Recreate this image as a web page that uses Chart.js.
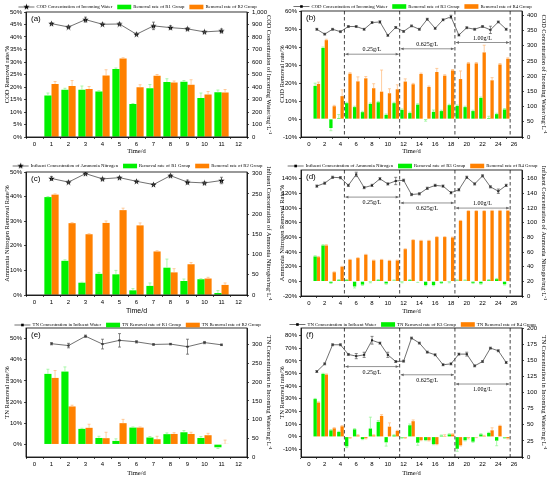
<!DOCTYPE html>
<html>
<head>
<meta charset="utf-8">
<script src="https://cdn.jsdelivr.net/npm/chart.js@4.4.0/dist/chart.umd.min.js"></script>
<style>
  body { margin: 0; background: #fff; width: 550px; height: 477px; overflow: hidden; }
  .p { position: absolute; width: 275px; }
</style>
</head>
<body>
<div class="p" style="left:0;top:0;height:155px"><canvas id="ca"></canvas></div>
<div class="p" style="left:275px;top:0;height:155px"><canvas id="cb"></canvas></div>
<div class="p" style="left:0;top:155px;height:160px"><canvas id="cc"></canvas></div>
<div class="p" style="left:275px;top:155px;height:160px"><canvas id="cd"></canvas></div>
<div class="p" style="left:0;top:315px;height:162px"><canvas id="ce"></canvas></div>
<div class="p" style="left:275px;top:315px;height:162px"><canvas id="cf"></canvas></div>
<script>
// ---- data ----
const days11 = [1, 2, 3, 4, 5, 6, 7, 8, 9, 10, 11];
const days25 = [1, 2, 3, 4, 5, 6, 7, 8, 9, 10, 11, 12, 13, 14, 15, 16, 17, 18, 19, 20, 21, 22, 23, 24, 25];

// (a) COD, R1 / R2
const codInA = [907, 880, 939, 902, 904, 822, 889, 875, 865, 841, 849];
const codInAErr = [8, 8, 20, 8, 8, 8, 30, 15, 10, 5, 15];
const codR1A = [16.6, 18.9, 18.9, 18.2, 27.2, 13.2, 19.5, 22.0, 22.1, 15.6, 17.9];
const codR1AErr = [1.0, 0.6, 1.5, 0.3, 0.4, 0.2, 1.5, 1.3, 0.5, 2.0, 0.9];
const codR2A = [21.2, 20.4, 19.2, 24.6, 31.4, 19.9, 24.5, 21.8, 20.9, 17.0, 17.8];
const codR2AErr = [1.0, 2.2, 1.0, 2.3, 0.3, 1.0, 0.5, 0.6, 2.0, 1.2, 1.2];

// (b) COD, R3 / R4
const codInB = [354, 338, 354, 346, 363, 363, 354, 376, 378, 334, 360, 347, 365, 354, 387, 357, 385, 395, 335, 359, 354, 363, 352, 378, 354];
const codInBErr = [3, 3, 3, 3, 3, 3, 3, 3, 4, 3, 3, 3, 3, 3, 3, 3, 3, 5, 3, 3, 3, 3, 12, 3, 3];
const codR3B = [18.4, 39.5, -5.0, 0.5, 8.8, 6.6, 3.8, 8.4, 9.3, 2.3, 8.8, 5.1, 3.3, 8.0, -0.4, 4.0, 4.4, 7.7, 7.3, 6.6, 4.4, 11.7, 0.5, 2.7, 5.3];
const codR3BErr = [1.5, 0.5, 1.5, 2.0, 0.5, 0.5, 0.5, 0.5, 0.5, 0.5, 0.5, 0.5, 0.5, 0.5, 0.8, 1.0, 0.5, 0.5, 0.5, 0.5, 0.5, 0.5, 1.0, 0.5, 0.5];
const codR4B = [19.5, 43.8, 7.1, 12.7, 25.2, 20.9, 22.6, 17.1, 15.2, 14.3, 16.5, 20.8, 19.3, 25.0, 17.8, 26.1, 24.1, 27.0, 22.2, 30.9, 30.9, 37.0, 21.5, 30.3, 33.5];
const codR4BErr = [1.0, 0.5, 0.5, 3.5, 0.5, 2.5, 1.0, 2.5, 12.0, 2.5, 2.5, 1.5, 0.5, 0.5, 0.5, 2.0, 0.5, 0.5, 4.5, 0.5, 0.5, 4.0, 1.5, 0.5, 0.5];

// (c) ammonia nitrogen, R1 / R2
const nhInC = [288, 279, 300, 287, 290, 281, 273, 295, 279, 277, 283];
const nhInCErr = [5, 2, 2, 2, 2, 2, 2, 3, 5, 2, 8];
const nhR1C = [39.8, 13.9, 5.0, 8.6, 8.4, 1.9, 3.7, 11.1, 5.7, 6.4, 0.8];
const nhR1CErr = [0.2, 0.4, 0.2, 0.6, 1.6, 0.7, 1.2, 3.5, 0.8, 0.2, 1.0];
const nhR2C = [40.8, 29.2, 24.7, 29.3, 34.5, 28.3, 17.7, 9.2, 12.5, 6.7, 4.1];
const nhR2CErr = [0.3, 0.2, 0.2, 0.8, 0.8, 1.0, 0.3, 1.5, 0.7, 0.5, 0.8];

// (d) ammonia nitrogen, R3 / R4
const nhInD = [150, 154, 162, 161.5, 151, 166, 148, 151, 160, 153, 157, 158, 138.5, 139.5, 147, 151, 150, 141, 145, 162, 153, 164, 149, 143, 151];
const nhInDErr = [1.5, 1.5, 1.5, 1.5, 1.5, 3, 1.5, 1.5, 1.5, 1.5, 5, 1.5, 1.5, 1.5, 1.5, 1.5, 1.5, 1.5, 1.5, 1.5, 1.5, 1.5, 1.5, 3, 1.5];
const nhR3D = [34, 49, -2, 1.5, 1.5, -7, -4.5, -1, 1.5, -3, 1, -1, 1.5, -0.5, -5, -5, -2, -1, 1, 1, -2, -3, 1.5, 3, -4];
const nhR3DErr = [1, 1, 1, 1, 1, 2, 1, 1, 1, 1, 1, 1, 1, 1, 1, 1, 1, 1, 1, 1, 1, 1, 1, 1, 1];
const nhR4D = [33, 49, 12.5, 20, 29.5, 31.8, 36.4, 28.6, 29.5, 28.2, 28.6, 44, 56.4, 55.5, 55.5, 60.5, 60.5, 60, 82.7, 96, 96, 96, 96.4, 96.4, 96.4];
const nhR4DErr = [1, 1, 0.5, 0.5, 0.5, 0.5, 0.5, 0.5, 0.5, 0.5, 0.5, 0.5, 0.5, 0.5, 0.5, 0.5, 0.5, 0.5, 0.5, 0.5, 0.5, 0.5, 0.5, 0.5, 0.5];

// (e) TN, R1 / R2
const tnInE = [303, 298, 323, 302, 312, 308, 301, 302, 295, 306, 300];
const tnInEErr = [3, 6, 3, 13, 18, 3, 2, 2, 20, 3, 2];
const tnR1E = [33.3, 34.4, 7.3, 3.0, 1.6, 7.9, 3.2, 4.8, 5.7, 3.0, -1.4];
const tnR1EErr = [2.2, 2.2, 0.3, 0.8, 1.0, 0.3, 0.5, 0.6, 0.8, 0.7, 0.6];
const tnR2E = [31.4, 17.9, 7.8, 2.9, 10.0, 7.9, 2.4, 4.9, 4.9, 4.3, 0.2];
const tnR2EErr = [3.5, 0.6, 1.7, 2.8, 1.8, 0.3, 1.4, 0.6, 0.8, 0.9, 1.8];

// (f) TN, R3 / R4
const tnInF = [132.5, 144.4, 174, 174, 159, 156.4, 158.4, 181, 176.6, 158.4, 148, 148.6, 184.4, 176.6, 162.6, 158.4, 143, 144.4, 159.5, 159.5, 141.3, 148, 168.8, 164.7, 146.5];
const tnInFErr = [1.5, 1.5, 1.5, 1.5, 1.5, 4, 4, 6, 1.5, 4, 1.5, 1.5, 1.5, 1.5, 1.5, 1.5, 1.5, 1.5, 1.5, 3, 1.5, 1.5, 1.5, 1.5, 1.5];
const tnR3F = [29.8, 49.7, 5.1, 3.8, -7.6, 5.9, -1.8, 6.5, 11.8, -4.4, 1.1, -0.7, 9.1, -4.7, -2.6, -5.8, 0.9, 1.9, -9.5, -2.8, -3.9, 1.9, 3.0, -3.1, -0.7];
const tnR3FErr = [0.5, 0.5, 0.5, 0.5, 1, 0.5, 0.5, 9, 1, 3, 0.5, 0.5, 1, 2, 0.5, 0.5, 0.5, 0.5, 2, 0.5, 0.5, 0.5, 0.5, 4, 0.5];
const tnR4F = [27.1, 49.2, 6.7, 8.3, -0.7, 1.1, -1.2, 1.1, 16.5, 8.0, 4.6, -0.7, 12.3, -2.6, -2.8, -5.8, 0.6, 1.9, -6.8, -0.7, -0.2, 0.6, 5.1, 8.6, -1.2];
const tnR4FErr = [0.5, 0.5, 0.5, 0.5, 0.5, 0.5, 0.5, 0.5, 1, 3, 0.5, 0.5, 1, 0.5, 0.5, 0.5, 1, 0.5, 0.5, 1, 0.5, 0.5, 2, 0.5, 0.5];

// dosing phases
const phaseLines = [4.5, 11.5, 18.5, 25.5];
const phaseLabels = ['0.25g/L', '0.625g/L', '1.00g/L'];

// ---- drawing ----
const GREEN = '#00f000';
const ORANGE = '#ff8000';
const SERIF = '"Liberation Serif", "Times New Roman", serif';
const SANS = '"Liberation Sans", Arial, sans-serif';

Chart.defaults.font.family = SANS;
Chart.defaults.color = '#000';

function pts(xs, ys) {
  return xs.map((x, i) => ({ x: x, y: ys[i] }));
}

// filled five-point star used as point style
const starImg = (function () {
  const c = document.createElement('canvas');
  c.width = 7; c.height = 7;
  const g = c.getContext('2d');
  g.beginPath();
  for (let i = 0; i < 10; i++) {
    const r = i % 2 ? 1.3 : 3.3;
    const a = -Math.PI / 2 + i * Math.PI / 5;
    g.lineTo(3.5 + r * Math.cos(a), 3.8 + r * Math.sin(a));
  }
  g.closePath();
  g.fillStyle = '#000';
  g.fill();
  return c;
})();

function deco(p) {
  return {
    id: 'deco',
    afterDatasetDraw(chart, args) {
      const spec = p.errors[args.index];
      if (!spec) return;
      const ctx = chart.ctx;
      const meta = args.meta;
      const ys = chart.scales[meta.yAxisID];
      const data = chart.data.datasets[args.index].data;
      ctx.save();
      ctx.strokeStyle = spec.color;
      ctx.lineWidth = 0.7;
      meta.data.forEach(function (el, i) {
        const v = data[i].y, e = spec.err[i];
        if (!e) return;
        const x = el.x;
        let y0, y1;
        if (spec.both) {
          y0 = ys.getPixelForValue(v - e);
          y1 = ys.getPixelForValue(v + e);
        } else {
          y0 = el.y;
          y1 = ys.getPixelForValue(v >= 0 ? v + e : v - e);
        }
        ctx.beginPath();
        ctx.moveTo(x, y0); ctx.lineTo(x, y1);
        ctx.moveTo(x - 1.5, y1); ctx.lineTo(x + 1.5, y1);
        if (spec.both) { ctx.moveTo(x - 1.5, y0); ctx.lineTo(x + 1.5, y0); }
        ctx.stroke();
      });
      ctx.restore();
    },
    afterDraw(chart) {
      const ctx = chart.ctx, a = chart.chartArea;
      const xs = chart.scales.x, ys = chart.scales.y;
      ctx.save();

      // phase separators and double arrows
      if (p.phases) {
        ctx.strokeStyle = '#333';
        ctx.lineWidth = 0.9;
        ctx.setLineDash([3.5, 2.5]);
        phaseLines.forEach(function (v) {
          const x = xs.getPixelForValue(v);
          ctx.beginPath(); ctx.moveTo(x, a.top); ctx.lineTo(x, a.bottom); ctx.stroke();
        });
        ctx.setLineDash([]);
        ctx.font = '6px ' + SERIF;
        ctx.textAlign = 'center';
        ctx.textBaseline = 'middle';
        p.phases.forEach(function (ph, i) {
          const x0 = xs.getPixelForValue(phaseLines[i]) + 1;
          const x1 = xs.getPixelForValue(phaseLines[i + 1]) - 1;
          const y = ys.getPixelForValue(ph.y);
          ctx.strokeStyle = '#666';
          ctx.fillStyle = '#666';
          ctx.lineWidth = 0.7;
          ctx.beginPath(); ctx.moveTo(x0, y); ctx.lineTo(x1, y); ctx.stroke();
          ctx.beginPath();
          ctx.moveTo(x0, y); ctx.lineTo(x0 + 3, y - 1.4); ctx.lineTo(x0 + 3, y + 1.4); ctx.closePath();
          ctx.moveTo(x1, y); ctx.lineTo(x1 - 3, y - 1.4); ctx.lineTo(x1 - 3, y + 1.4); ctx.closePath();
          ctx.fill();
          ctx.fillStyle = '#000';
          ctx.fillText(phaseLabels[i], (x0 + x1) / 2, y + (ph.below ? 5.5 : -4.5));
        });
      }

      // frame
      ctx.strokeStyle = '#000';
      ctx.lineWidth = 0.8;
      ctx.strokeRect(a.left, a.top, a.right - a.left, a.bottom - a.top);

      // panel letter
      ctx.fillStyle = '#000';
      ctx.font = '8px ' + SANS;
      ctx.textAlign = 'left';
      ctx.textBaseline = 'middle';
      ctx.fillText(p.letter, a.left + 5, a.top + 7);

      // legend
      ctx.font = '4.8px ' + SERIF;
      const items = p.legend;
      const symW = [16, 14, 14];
      let total = 0;
      items.forEach(function (t, i) { total += symW[i] + 2 + ctx.measureText(t).width; });
      total += 10;
      let x = chart.width / 2 - total / 2;
      const y = p.legendY;
      items.forEach(function (t, i) {
        if (i === 0) {
          ctx.strokeStyle = '#333'; ctx.lineWidth = 0.7;
          ctx.beginPath(); ctx.moveTo(x, y); ctx.lineTo(x + symW[0], y); ctx.stroke();
          if (p.star) {
            ctx.drawImage(starImg, x + symW[0] / 2 - 3.5, y - 3.8);
          } else {
            ctx.fillStyle = '#000';
            ctx.fillRect(x + symW[0] / 2 - 1.3, y - 1.3, 2.6, 2.6);
          }
        } else {
          ctx.fillStyle = i === 1 ? GREEN : ORANGE;
          ctx.fillRect(x, y - 2.3, symW[i], 4.6);
        }
        x += symW[i] + 2;
        ctx.fillStyle = '#000';
        ctx.fillText(t, x, y);
        x += ctx.measureText(t).width + 5;
      });
      ctx.restore();
    }
  };
}

function axisCommon() {
  return {
    grid: { drawOnChartArea: false, drawTicks: true, tickLength: 2, color: '#000', lineWidth: 0.7 },
    border: { display: true, color: '#000', width: 0.8 }
  };
}

function makeChart(id, p) {
  const days = p.days;
  const ds = [
    {
      type: 'line', label: p.legend[0], data: pts(days, p.line), yAxisID: 'y1', order: 0,
      borderColor: '#333', borderWidth: 0.7, tension: 0,
      pointStyle: p.star ? starImg : 'rect', pointRadius: p.star ? 3 : 1.4,
      pointBackgroundColor: '#000', pointBorderColor: '#000', pointBorderWidth: 0
    },
    {
      type: 'bar', label: p.legend[1], data: pts(days, p.r1), yAxisID: 'y', order: 1,
      backgroundColor: GREEN, borderWidth: 0, categoryPercentage: 0.84, barPercentage: 1
    },
    {
      type: 'bar', label: p.legend[2], data: pts(days, p.r2), yAxisID: 'y', order: 1,
      backgroundColor: ORANGE, borderWidth: 0, categoryPercentage: 0.84, barPercentage: 1
    }
  ];
  p.errors = [
    { err: p.lineErr, color: '#555', both: true },
    { err: p.r1Err, color: '#8cf58c' },
    { err: p.r2Err, color: '#ffb877' }
  ];
  const xTitleFont = p.sansTime ? { family: SANS, size: 7 } : { family: SERIF, size: 6.5 };
  const x = Object.assign(axisCommon(), {
    type: 'linear', min: 0, max: p.xMax,
    ticks: { stepSize: p.xStep, autoSkip: false, maxRotation: 0, font: { size: 6 }, padding: 2 },
    title: { display: true, text: 'Time/d', font: xTitleFont, padding: 0 },
    afterFit: function (s) { s.height = p.H - p.bottom; }
  });
  const y = Object.assign(axisCommon(), {
    position: 'left', min: p.yMin, max: p.yMax,
    ticks: {
      stepSize: p.yStep, autoSkip: false, includeBounds: false, font: { size: 6 }, padding: 2,
      callback: function (v) { return v + '%'; }
    },
    title: { display: true, text: p.yTitle, font: { family: SERIF, size: 6.5 }, padding: { top: 3, bottom: 0 } },
    afterFit: function (s) { s.width = 26; }
  });
  const y1 = Object.assign(axisCommon(), {
    position: 'right', min: 0, max: p.y1Max,
    ticks: { stepSize: p.y1Step, autoSkip: false, includeBounds: false, font: { size: 6 }, padding: 3 },
    title: { display: true, text: p.y1Title, font: { family: SERIF, size: 6.3 }, padding: { top: 3, bottom: 0 } },
    afterFit: function (s) { s.width = 28; }
  });
  return new Chart(document.getElementById(id), {
    type: 'bar',
    data: { datasets: ds },
    options: {
      responsive: true, maintainAspectRatio: false, animation: false, events: [],
      layout: { padding: { top: p.top, left: 0, right: 0, bottom: 0 } },
      plugins: { legend: { display: false }, tooltip: { enabled: false } },
      scales: { x: x, y: y, y1: y1 }
    },
    plugins: [deco(p)]
  });
}

const unitTitle = '/mg\u00b7L\u207b\u00b9';

makeChart('ca', {
  letter: '(a)', H: 155, top: 12, bottom: 137, legendY: 7, star: true,
  days: days11, xMax: 12, xStep: 1,
  line: codInA, lineErr: codInAErr, r1: codR1A, r1Err: codR1AErr, r2: codR2A, r2Err: codR2AErr,
  yMin: 0, yMax: 50, yStep: 5, y1Max: 1000, y1Step: 100,
  yTitle: 'COD Removal rate/%', y1Title: 'COD Concentration of Incoming Water' + unitTitle,
  legend: ['COD Concentration of Incoming Water', 'Removal rate of R1 Group', 'Removal rate of R2 Group']
});

makeChart('cb', {
  letter: '(b)', H: 155, top: 11, bottom: 137, legendY: 6.5, star: false,
  days: days25, xMax: 26, xStep: 2,
  line: codInB, lineErr: codInBErr, r1: codR3B, r1Err: codR3BErr, r2: codR4B, r2Err: codR4BErr,
  yMin: -10, yMax: 60, yStep: 10, y1Max: 414, y1Step: 50,
  yTitle: 'COD Removal rate/%', y1Title: 'COD Concentration of Incoming Water' + unitTitle,
  legend: ['COD Concentration of Incoming Water', 'Removal rate of R3 Group', 'Removal rate of R4 Group'],
  phases: [{ y: 36 }, { y: 39 }, { y: 42.5 }]
});

makeChart('cc', {
  letter: '(c)', H: 160, top: 17, bottom: 140, legendY: 11, star: true, sansTime: true,
  days: days11, xMax: 12, xStep: 1,
  line: nhInC, lineErr: nhInCErr, r1: nhR1C, r1Err: nhR1CErr, r2: nhR2C, r2Err: nhR2CErr,
  yMin: 0, yMax: 50, yStep: 10, y1Max: 304, y1Step: 50,
  yTitle: 'Ammonia Nitrogen Removal Rate/%', y1Title: 'Influent Concentration of Ammonia Nitrogen' + unitTitle,
  legend: ['Influent Concentration of Ammonia Nitrogen', 'Removal rate of R1 Group', 'Removal rate of R2 Group']
});

makeChart('cd', {
  letter: '(d)', H: 160, top: 15, bottom: 141, legendY: 11, star: false,
  days: days25, xMax: 26, xStep: 2,
  line: nhInD, lineErr: nhInDErr, r1: nhR3D, r1Err: nhR3DErr, r2: nhR4D, r2Err: nhR4DErr,
  yMin: -20, yMax: 152, yStep: 20, y1Max: 172, y1Step: 20,
  yTitle: 'Ammonia Nitrogen Removal Rate/%', y1Title: 'Influent Concentration of Ammonia Nitrogen' + unitTitle,
  legend: ['Influent Concentration of Ammonia Nitrogen', 'Removal rate of R3 Group', 'Removal rate of R4 Group'],
  phases: [{ y: 115, below: true }, { y: 107, below: true }, { y: 100 }]
});

makeChart('ce', {
  letter: '(e)', H: 162, top: 13, bottom: 142, legendY: 10, star: false,
  days: days11, xMax: 12, xStep: 1,
  line: tnInE, lineErr: tnInEErr, r1: tnR1E, r1Err: tnR1EErr, r2: tnR2E, r2Err: tnR2EErr,
  yMin: -6, yMax: 55, yStep: 10, y1Max: 345, y1Step: 50,
  yTitle: 'TN Removal rate/%', y1Title: 'TN Concentration in Incoming Water' + unitTitle,
  legend: ['TN Concentration in Influent Water', 'TN Removal rate of R1 Group', 'TN Removal rate of R2 Group']
});

makeChart('cf', {
  letter: '(f)', H: 162, top: 13, bottom: 142, legendY: 9.5, star: false,
  days: days25, xMax: 26, xStep: 2,
  line: tnInF, lineErr: tnInFErr, r1: tnR3F, r1Err: tnR3FErr, r2: tnR4F, r2Err: tnR4FErr,
  yMin: -16, yMax: 86, yStep: 10, y1Max: 200, y1Step: 25,
  yTitle: 'TN Removal rate/%', y1Title: 'TN Concentration in Incoming Water' + unitTitle,
  legend: ['TN Concentration in Influent Water', 'TN Removal rate of R3 Group', 'TN Removal rate of R4 Group'],
  phases: [{ y: 55.5, below: true }, { y: 49, below: true }, { y: 41.7, below: true }]
});
</script>
</body>
</html>
